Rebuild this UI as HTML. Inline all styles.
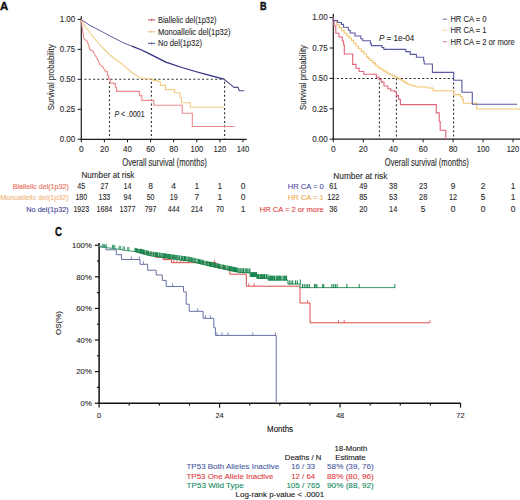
<!DOCTYPE html>
<html><head><meta charset="utf-8"><style>
html,body{margin:0;padding:0;background:#fff;}
svg{display:block;font-family:"Liberation Sans", sans-serif;}
</style></head><body>
<svg width="520" height="500" viewBox="0 0 520 500" shape-rendering="auto">
<rect width="520" height="500" fill="#fff"/>
<text x="0.1" y="9.5" font-size="10.6" fill="#111" font-weight="bold" textLength="8.2" lengthAdjust="spacingAndGlyphs" stroke="#111" stroke-width="0.35">A</text>
<line x1="81.3" y1="16.3" x2="81.3" y2="139.9" stroke="#1a1a1a" stroke-width="1.2"/>
<line x1="80.7" y1="139.3" x2="246.7" y2="139.3" stroke="#1a1a1a" stroke-width="1.2"/>
<line x1="77.6" y1="139.2" x2="81.3" y2="139.2" stroke="#1a1a1a" stroke-width="1"/>
<text x="75.3" y="142" font-size="8.5" fill="#2a2a2a" stroke="#2a2a2a" stroke-width="0.1" text-anchor="end" textLength="15.6" lengthAdjust="spacingAndGlyphs">0.00</text>
<line x1="77.6" y1="109.25" x2="81.3" y2="109.25" stroke="#1a1a1a" stroke-width="1"/>
<text x="75.3" y="112.05" font-size="8.5" fill="#2a2a2a" stroke="#2a2a2a" stroke-width="0.1" text-anchor="end" textLength="15.6" lengthAdjust="spacingAndGlyphs">0.25</text>
<line x1="77.6" y1="79.3" x2="81.3" y2="79.3" stroke="#1a1a1a" stroke-width="1"/>
<text x="75.3" y="82.1" font-size="8.5" fill="#2a2a2a" stroke="#2a2a2a" stroke-width="0.1" text-anchor="end" textLength="15.6" lengthAdjust="spacingAndGlyphs">0.50</text>
<line x1="77.6" y1="49.35" x2="81.3" y2="49.35" stroke="#1a1a1a" stroke-width="1"/>
<text x="75.3" y="52.15" font-size="8.5" fill="#2a2a2a" stroke="#2a2a2a" stroke-width="0.1" text-anchor="end" textLength="15.6" lengthAdjust="spacingAndGlyphs">0.75</text>
<line x1="77.6" y1="19.4" x2="81.3" y2="19.4" stroke="#1a1a1a" stroke-width="1"/>
<text x="75.3" y="22.2" font-size="8.5" fill="#2a2a2a" stroke="#2a2a2a" stroke-width="0.1" text-anchor="end" textLength="15.6" lengthAdjust="spacingAndGlyphs">1.00</text>
<line x1="81.3" y1="139.3" x2="81.3" y2="142.3" stroke="#1a1a1a" stroke-width="1"/>
<text x="81.3" y="152.4" font-size="8.4" fill="#2a2a2a" stroke="#2a2a2a" stroke-width="0.1" text-anchor="middle">0</text>
<line x1="104.4" y1="139.3" x2="104.4" y2="142.3" stroke="#1a1a1a" stroke-width="1"/>
<text x="104.4" y="152.4" font-size="8.4" fill="#2a2a2a" stroke="#2a2a2a" stroke-width="0.1" text-anchor="middle" textLength="8.9" lengthAdjust="spacingAndGlyphs">20</text>
<line x1="127.5" y1="139.3" x2="127.5" y2="142.3" stroke="#1a1a1a" stroke-width="1"/>
<text x="127.5" y="152.4" font-size="8.4" fill="#2a2a2a" stroke="#2a2a2a" stroke-width="0.1" text-anchor="middle" textLength="8.9" lengthAdjust="spacingAndGlyphs">40</text>
<line x1="150.6" y1="139.3" x2="150.6" y2="142.3" stroke="#1a1a1a" stroke-width="1"/>
<text x="150.6" y="152.4" font-size="8.4" fill="#2a2a2a" stroke="#2a2a2a" stroke-width="0.1" text-anchor="middle" textLength="8.9" lengthAdjust="spacingAndGlyphs">60</text>
<line x1="173.7" y1="139.3" x2="173.7" y2="142.3" stroke="#1a1a1a" stroke-width="1"/>
<text x="173.7" y="152.4" font-size="8.4" fill="#2a2a2a" stroke="#2a2a2a" stroke-width="0.1" text-anchor="middle" textLength="8.9" lengthAdjust="spacingAndGlyphs">80</text>
<line x1="196.8" y1="139.3" x2="196.8" y2="142.3" stroke="#1a1a1a" stroke-width="1"/>
<text x="196.8" y="152.4" font-size="8.4" fill="#2a2a2a" stroke="#2a2a2a" stroke-width="0.1" text-anchor="middle" textLength="12.75" lengthAdjust="spacingAndGlyphs">100</text>
<line x1="219.9" y1="139.3" x2="219.9" y2="142.3" stroke="#1a1a1a" stroke-width="1"/>
<text x="219.9" y="152.4" font-size="8.4" fill="#2a2a2a" stroke="#2a2a2a" stroke-width="0.1" text-anchor="middle" textLength="12.75" lengthAdjust="spacingAndGlyphs">120</text>
<line x1="243" y1="139.3" x2="243" y2="142.3" stroke="#1a1a1a" stroke-width="1"/>
<text x="243" y="152.4" font-size="8.4" fill="#2a2a2a" stroke="#2a2a2a" stroke-width="0.1" text-anchor="middle" textLength="12.75" lengthAdjust="spacingAndGlyphs">140</text>
<text x="54.2" y="77.3" font-size="9.3" fill="#2a2a2a" stroke="#2a2a2a" stroke-width="0.1" text-anchor="middle" textLength="66" lengthAdjust="spacingAndGlyphs" transform="rotate(-90 54.2 77.3)">Survival probability</text>
<text x="122.2" y="166.2" font-size="10" fill="#2a2a2a" stroke="#2a2a2a" stroke-width="0.1" textLength="84.6" lengthAdjust="spacingAndGlyphs">Overall survival (months)</text>
<line x1="81.3" y1="79.3" x2="224.7" y2="79.3" stroke="#2a2a2a" stroke-width="1.1" stroke-dasharray="2 2.358" stroke-dashoffset="1.26"/>
<line x1="109.5" y1="79.3" x2="109.5" y2="139.3" stroke="#2a2a2a" stroke-width="1.1" stroke-dasharray="2 2.358" stroke-dashoffset="1.9"/>
<line x1="151.4" y1="79.3" x2="151.4" y2="139.3" stroke="#2a2a2a" stroke-width="1.1" stroke-dasharray="2 2.358" stroke-dashoffset="1.9"/>
<line x1="224.6" y1="79.3" x2="224.6" y2="139.3" stroke="#2a2a2a" stroke-width="1.1" stroke-dasharray="2 2.358" stroke-dashoffset="1.9"/>
<text x="114.4" y="117.1" font-size="8.7" fill="#2a2a2a" stroke="#2a2a2a" stroke-width="0.1" textLength="30.3" lengthAdjust="spacingAndGlyphs"><tspan font-style="italic">P</tspan> &lt; .0001</text>
<path d="M81.3 19.6 L82 26 L83 33 L84 39 L87 41 L89 46 L90 50 L93 51 L95 55 L98 60 L100 65 L103 67 L105.2 71.2" fill="none" stroke="#ec8a8e" stroke-width="1.1" stroke-linejoin="miter" stroke-linecap="butt"/>
<path d="M105.2 71.2 L107.3 71.2 L107.3 75.4 L108.7 75.4 L108.7 78.9 L110.1 78.9 L110.1 83.1 L113.6 83.1 L113.6 83.6 L115.4 83.6 L115.4 87.2 L116.6 87.2 L116.6 91.4 L139.4 91.4 L139.4 95.6 L141.8 95.6 L141.8 100.4 L153.8 100.4 L153.8 105.2 L182.2 105.2 L182.2 113.3 L192.3 113.3 L192.3 126.5 L234.6 126.5" fill="none" stroke="#ec8a8e" stroke-width="1.1" stroke-linejoin="miter" stroke-linecap="butt"/>
<path d="M81.3 19.6 L85 26 L90 33 L95 39 L100 45 L105 50 L110 55 L115 59 L120 62.5 L124.4 66.2 L131.6 72.2 L138.8 77 L142.4 78.4 L150.8 79" fill="none" stroke="#f2cc84" stroke-width="1.1" stroke-linejoin="miter" stroke-linecap="butt"/>
<path d="M150.8 79 L153.2 79 L153.2 80.6 L158 80.6 L158 81.8 L160.4 81.8 L160.4 85.4 L165.4 85.4 L165.4 89.6 L174.6 89.6 L174.6 92.7 L180 92.7 L180 97.3 L181.5 97.3 L181.5 102.7 L189.8 102.7 L189.8 103.5 L190.3 103.5 L190.3 107.3 L224 107.3" fill="none" stroke="#f2cc84" stroke-width="1.1" stroke-linejoin="miter" stroke-linecap="butt"/>
<path d="M81.3 19.6 L90 25.5 L100 30.5 L110 36 L120 41 L123 42.7 L132 46.2" fill="none" stroke="#5c5ca0" stroke-width="1.0" stroke-linejoin="miter" stroke-linecap="butt"/>
<path d="M132 46.2 L141.5 50 L150 54.2 L155 56.7 L165.8 62.2 L181.9 67.5 L195.4 71.5 L208.8 75.2 L221 78.3 L224 79.2" fill="none" stroke="#2e2e82" stroke-width="1.3" stroke-linejoin="miter" stroke-linecap="butt"/>
<path d="M224 79.2 L228.8 83.1 L234.1 87.4 L238 87.4 L239.4 90.8 L244.2 90.8" fill="none" stroke="#4a4a8c" stroke-width="1.1" stroke-linejoin="miter" stroke-linecap="butt"/>
<line x1="148" y1="19.9" x2="155.2" y2="19.9" stroke="#c85a64" stroke-width="1.1"/>
<line x1="151.6" y1="18.8" x2="151.6" y2="21" stroke="#c85a64" stroke-width="0.9"/>
<text x="158" y="22.9" font-size="8.7" fill="#2a2a2a" stroke="#2a2a2a" stroke-width="0.1" textLength="58.6" lengthAdjust="spacingAndGlyphs">Biallelic del(1p32)</text>
<line x1="148" y1="31.8" x2="155.2" y2="31.8" stroke="#ecc48a" stroke-width="1.1"/>
<line x1="151.6" y1="30.7" x2="151.6" y2="32.9" stroke="#ecc48a" stroke-width="0.9"/>
<text x="158" y="34.8" font-size="8.7" fill="#2a2a2a" stroke="#2a2a2a" stroke-width="0.1" textLength="72.5" lengthAdjust="spacingAndGlyphs">Monoallelic del(1p32)</text>
<line x1="148" y1="43.4" x2="155.2" y2="43.4" stroke="#6464a4" stroke-width="1.1"/>
<line x1="151.6" y1="42.3" x2="151.6" y2="44.5" stroke="#6464a4" stroke-width="0.9"/>
<text x="158" y="46.4" font-size="8.7" fill="#2a2a2a" stroke="#2a2a2a" stroke-width="0.1" textLength="44" lengthAdjust="spacingAndGlyphs">No del(1p32)</text>
<text x="81.4" y="178.1" font-size="8.4" fill="#2a2a2a" stroke="#2a2a2a" stroke-width="0.1" textLength="53" lengthAdjust="spacingAndGlyphs">Number at risk</text>
<text x="68.75" y="189.15" font-size="8" fill="#e86a52" stroke="#e86a52" stroke-width="0.1" text-anchor="end" textLength="56" lengthAdjust="spacingAndGlyphs">Biallelic del(1p32)</text>
<text x="81.3" y="189.15" font-size="8.4" fill="#2a2a2a" stroke="#2a2a2a" stroke-width="0.1" text-anchor="middle" textLength="7.9" lengthAdjust="spacingAndGlyphs">45</text>
<text x="104.4" y="189.15" font-size="8.4" fill="#2a2a2a" stroke="#2a2a2a" stroke-width="0.1" text-anchor="middle" textLength="7.9" lengthAdjust="spacingAndGlyphs">27</text>
<text x="127.5" y="189.15" font-size="8.4" fill="#2a2a2a" stroke="#2a2a2a" stroke-width="0.1" text-anchor="middle" textLength="7.9" lengthAdjust="spacingAndGlyphs">14</text>
<text x="150.6" y="189.15" font-size="8.4" fill="#2a2a2a" stroke="#2a2a2a" stroke-width="0.1" text-anchor="middle">8</text>
<text x="173.7" y="189.15" font-size="8.4" fill="#2a2a2a" stroke="#2a2a2a" stroke-width="0.1" text-anchor="middle">4</text>
<text x="196.8" y="189.15" font-size="8.4" fill="#2a2a2a" stroke="#2a2a2a" stroke-width="0.1" text-anchor="middle">1</text>
<text x="219.9" y="189.15" font-size="8.4" fill="#2a2a2a" stroke="#2a2a2a" stroke-width="0.1" text-anchor="middle">1</text>
<text x="243" y="189.15" font-size="8.4" fill="#2a2a2a" stroke="#2a2a2a" stroke-width="0.1" text-anchor="middle">0</text>
<text x="68.75" y="200.4" font-size="8" fill="#f2b27a" stroke="#f2b27a" stroke-width="0.1" text-anchor="end" textLength="68.5" lengthAdjust="spacingAndGlyphs">Monoallelic del(1p32)</text>
<text x="81.3" y="200.4" font-size="8.4" fill="#2a2a2a" stroke="#2a2a2a" stroke-width="0.1" text-anchor="middle" textLength="11.85" lengthAdjust="spacingAndGlyphs">180</text>
<text x="104.4" y="200.4" font-size="8.4" fill="#2a2a2a" stroke="#2a2a2a" stroke-width="0.1" text-anchor="middle" textLength="11.85" lengthAdjust="spacingAndGlyphs">133</text>
<text x="127.5" y="200.4" font-size="8.4" fill="#2a2a2a" stroke="#2a2a2a" stroke-width="0.1" text-anchor="middle" textLength="7.9" lengthAdjust="spacingAndGlyphs">94</text>
<text x="150.6" y="200.4" font-size="8.4" fill="#2a2a2a" stroke="#2a2a2a" stroke-width="0.1" text-anchor="middle" textLength="7.9" lengthAdjust="spacingAndGlyphs">50</text>
<text x="173.7" y="200.4" font-size="8.4" fill="#2a2a2a" stroke="#2a2a2a" stroke-width="0.1" text-anchor="middle" textLength="7.9" lengthAdjust="spacingAndGlyphs">19</text>
<text x="196.8" y="200.4" font-size="8.4" fill="#2a2a2a" stroke="#2a2a2a" stroke-width="0.1" text-anchor="middle">7</text>
<text x="219.9" y="200.4" font-size="8.4" fill="#2a2a2a" stroke="#2a2a2a" stroke-width="0.1" text-anchor="middle">1</text>
<text x="243" y="200.4" font-size="8.4" fill="#2a2a2a" stroke="#2a2a2a" stroke-width="0.1" text-anchor="middle">0</text>
<text x="68.75" y="211.65" font-size="8" fill="#3b3b95" stroke="#3b3b95" stroke-width="0.1" text-anchor="end" textLength="42.5" lengthAdjust="spacingAndGlyphs">No del(1p32)</text>
<text x="81.3" y="211.65" font-size="8.4" fill="#2a2a2a" stroke="#2a2a2a" stroke-width="0.1" text-anchor="middle" textLength="15.8" lengthAdjust="spacingAndGlyphs">1923</text>
<text x="104.4" y="211.65" font-size="8.4" fill="#2a2a2a" stroke="#2a2a2a" stroke-width="0.1" text-anchor="middle" textLength="15.8" lengthAdjust="spacingAndGlyphs">1684</text>
<text x="127.5" y="211.65" font-size="8.4" fill="#2a2a2a" stroke="#2a2a2a" stroke-width="0.1" text-anchor="middle" textLength="15.8" lengthAdjust="spacingAndGlyphs">1377</text>
<text x="150.6" y="211.65" font-size="8.4" fill="#2a2a2a" stroke="#2a2a2a" stroke-width="0.1" text-anchor="middle" textLength="11.85" lengthAdjust="spacingAndGlyphs">797</text>
<text x="173.7" y="211.65" font-size="8.4" fill="#2a2a2a" stroke="#2a2a2a" stroke-width="0.1" text-anchor="middle" textLength="11.85" lengthAdjust="spacingAndGlyphs">444</text>
<text x="196.8" y="211.65" font-size="8.4" fill="#2a2a2a" stroke="#2a2a2a" stroke-width="0.1" text-anchor="middle" textLength="11.85" lengthAdjust="spacingAndGlyphs">214</text>
<text x="219.9" y="211.65" font-size="8.4" fill="#2a2a2a" stroke="#2a2a2a" stroke-width="0.1" text-anchor="middle" textLength="7.9" lengthAdjust="spacingAndGlyphs">70</text>
<text x="243" y="211.65" font-size="8.4" fill="#2a2a2a" stroke="#2a2a2a" stroke-width="0.1" text-anchor="middle">1</text>
<text x="260.1" y="9.6" font-size="11" fill="#111" font-weight="bold" textLength="6.6" lengthAdjust="spacingAndGlyphs" stroke="#111" stroke-width="0.45">B</text>
<line x1="333.3" y1="13.8" x2="333.3" y2="139.9" stroke="#1a1a1a" stroke-width="1.2"/>
<line x1="332.7" y1="139.2" x2="520" y2="139.2" stroke="#1a1a1a" stroke-width="1.2"/>
<line x1="329.6" y1="139.2" x2="333.3" y2="139.2" stroke="#1a1a1a" stroke-width="1"/>
<text x="327.8" y="142" font-size="8.5" fill="#2a2a2a" stroke="#2a2a2a" stroke-width="0.1" text-anchor="end" textLength="15.6" lengthAdjust="spacingAndGlyphs">0.00</text>
<line x1="329.6" y1="108.8" x2="333.3" y2="108.8" stroke="#1a1a1a" stroke-width="1"/>
<text x="327.8" y="111.6" font-size="8.5" fill="#2a2a2a" stroke="#2a2a2a" stroke-width="0.1" text-anchor="end" textLength="15.6" lengthAdjust="spacingAndGlyphs">0.25</text>
<line x1="329.6" y1="78.4" x2="333.3" y2="78.4" stroke="#1a1a1a" stroke-width="1"/>
<text x="327.8" y="81.2" font-size="8.5" fill="#2a2a2a" stroke="#2a2a2a" stroke-width="0.1" text-anchor="end" textLength="15.6" lengthAdjust="spacingAndGlyphs">0.50</text>
<line x1="329.6" y1="48" x2="333.3" y2="48" stroke="#1a1a1a" stroke-width="1"/>
<text x="327.8" y="50.8" font-size="8.5" fill="#2a2a2a" stroke="#2a2a2a" stroke-width="0.1" text-anchor="end" textLength="15.6" lengthAdjust="spacingAndGlyphs">0.75</text>
<line x1="329.6" y1="17.6" x2="333.3" y2="17.6" stroke="#1a1a1a" stroke-width="1"/>
<text x="327.8" y="20.4" font-size="8.5" fill="#2a2a2a" stroke="#2a2a2a" stroke-width="0.1" text-anchor="end" textLength="15.6" lengthAdjust="spacingAndGlyphs">1.00</text>
<line x1="333.3" y1="139.2" x2="333.3" y2="142.3" stroke="#1a1a1a" stroke-width="1"/>
<text x="333.3" y="152.4" font-size="8.4" fill="#2a2a2a" stroke="#2a2a2a" stroke-width="0.1" text-anchor="middle">0</text>
<line x1="363.25" y1="139.2" x2="363.25" y2="142.3" stroke="#1a1a1a" stroke-width="1"/>
<text x="363.25" y="152.4" font-size="8.4" fill="#2a2a2a" stroke="#2a2a2a" stroke-width="0.1" text-anchor="middle" textLength="8.9" lengthAdjust="spacingAndGlyphs">20</text>
<line x1="393.2" y1="139.2" x2="393.2" y2="142.3" stroke="#1a1a1a" stroke-width="1"/>
<text x="393.2" y="152.4" font-size="8.4" fill="#2a2a2a" stroke="#2a2a2a" stroke-width="0.1" text-anchor="middle" textLength="8.9" lengthAdjust="spacingAndGlyphs">40</text>
<line x1="423.15" y1="139.2" x2="423.15" y2="142.3" stroke="#1a1a1a" stroke-width="1"/>
<text x="423.15" y="152.4" font-size="8.4" fill="#2a2a2a" stroke="#2a2a2a" stroke-width="0.1" text-anchor="middle" textLength="8.9" lengthAdjust="spacingAndGlyphs">60</text>
<line x1="453.1" y1="139.2" x2="453.1" y2="142.3" stroke="#1a1a1a" stroke-width="1"/>
<text x="453.1" y="152.4" font-size="8.4" fill="#2a2a2a" stroke="#2a2a2a" stroke-width="0.1" text-anchor="middle" textLength="8.9" lengthAdjust="spacingAndGlyphs">80</text>
<line x1="483.05" y1="139.2" x2="483.05" y2="142.3" stroke="#1a1a1a" stroke-width="1"/>
<text x="483.05" y="152.4" font-size="8.4" fill="#2a2a2a" stroke="#2a2a2a" stroke-width="0.1" text-anchor="middle" textLength="12.75" lengthAdjust="spacingAndGlyphs">100</text>
<line x1="513" y1="139.2" x2="513" y2="142.3" stroke="#1a1a1a" stroke-width="1"/>
<text x="513" y="152.4" font-size="8.4" fill="#2a2a2a" stroke="#2a2a2a" stroke-width="0.1" text-anchor="middle" textLength="12.75" lengthAdjust="spacingAndGlyphs">120</text>
<text x="306.2" y="77.5" font-size="9.3" fill="#2a2a2a" stroke="#2a2a2a" stroke-width="0.1" text-anchor="middle" textLength="65" lengthAdjust="spacingAndGlyphs" transform="rotate(-90 306.2 77.5)">Survival probability</text>
<text x="384.8" y="165.8" font-size="10" fill="#2a2a2a" stroke="#2a2a2a" stroke-width="0.1" textLength="84" lengthAdjust="spacingAndGlyphs">Overall survival (months)</text>
<line x1="333.3" y1="78.5" x2="453.8" y2="78.5" stroke="#2a2a2a" stroke-width="1.1" stroke-dasharray="2.1 2.171" stroke-dashoffset="0.85"/>
<line x1="379.4" y1="78.5" x2="379.4" y2="139.2" stroke="#2a2a2a" stroke-width="1.1" stroke-dasharray="2 2.33" stroke-dashoffset="0.3"/>
<line x1="396.4" y1="78.5" x2="396.4" y2="139.2" stroke="#2a2a2a" stroke-width="1.1" stroke-dasharray="2 2.33" stroke-dashoffset="0.3"/>
<line x1="453.6" y1="78.5" x2="453.6" y2="139.2" stroke="#2a2a2a" stroke-width="1.1" stroke-dasharray="2 2.33" stroke-dashoffset="0.3"/>
<text x="378.9" y="41.3" font-size="8.3" fill="#2a2a2a" stroke="#2a2a2a" stroke-width="0.1" textLength="35.5" lengthAdjust="spacingAndGlyphs"><tspan font-style="italic">P</tspan> = 1e-04</text>
<path d="M333.3 17.6 L333.3 20 L334 20 L334 26 L335.8 26 L335.8 33.2 L339 33.2 L339 37 L342.3 37 L342.3 41 L343.6 41 L343.6 44.9 L344.3 44.9 L344.3 54 L351.4 54 L352.7 54 L352.7 64.4 L356 64.4 L356 68.2 L359.2 68.2 L359.2 71.5 L363.8 71.5 L363.8 74.3 L376.3 74.3 L376.3 77.3 L379.2 77.3 L379.2 79.2 L381.2 79.2 L381.2 82.1 L384 82.1 L384 86 L387.9 86 L387.9 88.8 L390.8 88.8 L390.8 90.8 L394.6 90.8 L394.6 91.7 L396.5 91.7 L396.5 95.6 L398.5 95.6 L398.5 99.4 L400.4 99.4 L400.4 104.6 L436.3 104.6 L436.3 112.9 L439.2 112.9 L439.2 121.5 L440.2 121.5 L440.2 130.2 L445.8 130.2 L445.8 139.2" fill="none" stroke="#e2647a" stroke-width="1.1" stroke-linejoin="miter" stroke-linecap="butt"/>
<path d="M333.3 17.6 L333.3 20.2 L336.5 20.2 L336.5 24.7 L339.1 24.7 L339.1 27.65 L341.7 27.65 L341.7 30.6 L344.3 30.6 L344.3 33.2 L346.9 33.2 L346.9 35.8 L349.15 35.8 L349.15 38.05 L351.4 38.05 L351.4 40.3 L353.7 40.3 L353.7 43.25 L356 43.25 L356 46.2 L358.6 46.2 L358.6 48.8 L361.2 48.8 L361.2 51.4 L363.8 51.4 L363.8 54 L366.4 54 L366.4 56.6 L368.2 56.6 L368.2 58.55 L370 58.55 L370 60.5 L372.67 60.5 L372.67 62.9 L375.33 62.9 L375.33 65.3 L378 65.3 L378 67.7 L380.43 67.7 L380.43 69.15 L382.85 69.15 L382.85 70.6 L385.27 70.6 L385.27 72.05 L387.7 72.05 L387.7 73.5 L390.1 73.5 L390.1 74.7 L392.5 74.7 L392.5 75.9 L394.9 75.9 L394.9 77.1 L397.3 77.1 L397.3 78.3 L399.73 78.3 L399.73 79.72 L402.15 79.72 L402.15 81.15 L404.57 81.15 L404.57 82.58 L407 82.58 L407 84 L409.38 84 L409.38 84.75 L411.75 84.75 L411.75 85.5 L414.12 85.5 L414.12 86.25 L416.5 86.25 L416.5 87" fill="none" stroke="#f2c470" stroke-width="1.1" stroke-linejoin="miter" stroke-linecap="butt"/>
<path d="M416.5 87 L427.5 87 L427.5 88 L433 88 L433 90.8 L453.7 90.8 L453.7 94.6 L460.4 94.6 L460.4 96.5 L462.3 96.5 L462.3 99.4 L463.3 99.4 L463.3 103.3 L476.7 103.3 L476.7 109 L520 109" fill="none" stroke="#f2c470" stroke-width="1.1" stroke-linejoin="miter" stroke-linecap="butt"/>
<path d="M333.3 17.6 L333.3 20.6 L337.7 20.6 L337.7 22.5 L341.5 22.5 L341.5 24.4 L343.5 24.4 L343.5 27.3 L348.3 27.3 L348.3 30.2 L350.2 30.2 L350.2 33 L355 33 L355 36 L360.8 36 L360.8 38.8 L362.7 38.8 L362.7 40.8 L370.4 40.8 L370.4 43.6 L371.3 43.6 L371.3 45.6 L381.9 45.6 L381.9 47.5 L383.8 47.5 L383.8 49.4 L405.8 49.4 L405.8 51.6 L410.2 51.6 L410.2 54.4 L416.4 54.4 L416.4 57.2 L423.6 57.2 L423.6 60.8 L424.2 60.8 L424.2 64 L432.4 64 L432.4 72.4 L453.7 72.4 L453.7 80.2 L461.9 80.2 L461.9 92.3 L472.3 92.3 L472.3 104.2 L517.1 104.2" fill="none" stroke="#5a5aa4" stroke-width="1.1" stroke-linejoin="miter" stroke-linecap="butt"/>
<line x1="442.7" y1="19.2" x2="446.9" y2="19.2" stroke="#7474b4" stroke-width="1.1"/>
<text x="450.4" y="22.2" font-size="8.7" fill="#2a2a2a" stroke="#2a2a2a" stroke-width="0.1" textLength="36" lengthAdjust="spacingAndGlyphs">HR CA = 0</text>
<line x1="442.7" y1="30.2" x2="446.9" y2="30.2" stroke="#f3cc90" stroke-width="1.1"/>
<text x="450.4" y="33.2" font-size="8.7" fill="#2a2a2a" stroke="#2a2a2a" stroke-width="0.1" textLength="36" lengthAdjust="spacingAndGlyphs">HR CA = 1</text>
<line x1="442.7" y1="41.7" x2="446.9" y2="41.7" stroke="#e48a9c" stroke-width="1.1"/>
<text x="450.4" y="44.7" font-size="8.7" fill="#2a2a2a" stroke="#2a2a2a" stroke-width="0.1" textLength="64.4" lengthAdjust="spacingAndGlyphs">HR CA = 2 or more</text>
<text x="333.3" y="178.9" font-size="8.4" fill="#2a2a2a" stroke="#2a2a2a" stroke-width="0.1" textLength="54" lengthAdjust="spacingAndGlyphs">Number at risk</text>
<text x="323.75" y="189.2" font-size="8" fill="#4848a0" stroke="#4848a0" stroke-width="0.1" text-anchor="end" textLength="36" lengthAdjust="spacingAndGlyphs">HR CA = 0</text>
<text x="333.3" y="189.2" font-size="8.4" fill="#2a2a2a" stroke="#2a2a2a" stroke-width="0.1" text-anchor="middle" textLength="8.2" lengthAdjust="spacingAndGlyphs">61</text>
<text x="363.25" y="189.2" font-size="8.4" fill="#2a2a2a" stroke="#2a2a2a" stroke-width="0.1" text-anchor="middle" textLength="8.2" lengthAdjust="spacingAndGlyphs">49</text>
<text x="393.2" y="189.2" font-size="8.4" fill="#2a2a2a" stroke="#2a2a2a" stroke-width="0.1" text-anchor="middle" textLength="8.2" lengthAdjust="spacingAndGlyphs">38</text>
<text x="423.15" y="189.2" font-size="8.4" fill="#2a2a2a" stroke="#2a2a2a" stroke-width="0.1" text-anchor="middle" textLength="8.2" lengthAdjust="spacingAndGlyphs">23</text>
<text x="453.1" y="189.2" font-size="8.4" fill="#2a2a2a" stroke="#2a2a2a" stroke-width="0.1" text-anchor="middle">9</text>
<text x="483.05" y="189.2" font-size="8.4" fill="#2a2a2a" stroke="#2a2a2a" stroke-width="0.1" text-anchor="middle">2</text>
<text x="513" y="189.2" font-size="8.4" fill="#2a2a2a" stroke="#2a2a2a" stroke-width="0.1" text-anchor="middle">1</text>
<text x="323.75" y="200.4" font-size="8" fill="#f2a94a" stroke="#f2a94a" stroke-width="0.1" text-anchor="end" textLength="36" lengthAdjust="spacingAndGlyphs">HR CA = 1</text>
<text x="333.3" y="200.4" font-size="8.4" fill="#2a2a2a" stroke="#2a2a2a" stroke-width="0.1" text-anchor="middle" textLength="12.3" lengthAdjust="spacingAndGlyphs">122</text>
<text x="363.25" y="200.4" font-size="8.4" fill="#2a2a2a" stroke="#2a2a2a" stroke-width="0.1" text-anchor="middle" textLength="8.2" lengthAdjust="spacingAndGlyphs">85</text>
<text x="393.2" y="200.4" font-size="8.4" fill="#2a2a2a" stroke="#2a2a2a" stroke-width="0.1" text-anchor="middle" textLength="8.2" lengthAdjust="spacingAndGlyphs">53</text>
<text x="423.15" y="200.4" font-size="8.4" fill="#2a2a2a" stroke="#2a2a2a" stroke-width="0.1" text-anchor="middle" textLength="8.2" lengthAdjust="spacingAndGlyphs">28</text>
<text x="453.1" y="200.4" font-size="8.4" fill="#2a2a2a" stroke="#2a2a2a" stroke-width="0.1" text-anchor="middle" textLength="8.2" lengthAdjust="spacingAndGlyphs">12</text>
<text x="483.05" y="200.4" font-size="8.4" fill="#2a2a2a" stroke="#2a2a2a" stroke-width="0.1" text-anchor="middle">5</text>
<text x="513" y="200.4" font-size="8.4" fill="#2a2a2a" stroke="#2a2a2a" stroke-width="0.1" text-anchor="middle">1</text>
<text x="323.75" y="211.9" font-size="8" fill="#e23a3a" stroke="#e23a3a" stroke-width="0.1" text-anchor="end" textLength="64" lengthAdjust="spacingAndGlyphs">HR CA = 2 or more</text>
<text x="333.3" y="211.9" font-size="8.4" fill="#2a2a2a" stroke="#2a2a2a" stroke-width="0.1" text-anchor="middle" textLength="8.2" lengthAdjust="spacingAndGlyphs">36</text>
<text x="363.25" y="211.9" font-size="8.4" fill="#2a2a2a" stroke="#2a2a2a" stroke-width="0.1" text-anchor="middle" textLength="8.2" lengthAdjust="spacingAndGlyphs">20</text>
<text x="393.2" y="211.9" font-size="8.4" fill="#2a2a2a" stroke="#2a2a2a" stroke-width="0.1" text-anchor="middle" textLength="8.2" lengthAdjust="spacingAndGlyphs">14</text>
<text x="423.15" y="211.9" font-size="8.4" fill="#2a2a2a" stroke="#2a2a2a" stroke-width="0.1" text-anchor="middle">5</text>
<text x="453.1" y="211.9" font-size="8.4" fill="#2a2a2a" stroke="#2a2a2a" stroke-width="0.1" text-anchor="middle">0</text>
<text x="483.05" y="211.9" font-size="8.4" fill="#2a2a2a" stroke="#2a2a2a" stroke-width="0.1" text-anchor="middle">0</text>
<text x="513" y="211.9" font-size="8.4" fill="#2a2a2a" stroke="#2a2a2a" stroke-width="0.1" text-anchor="middle">0</text>
<text x="54.9" y="235.6" font-size="12" fill="#111" font-weight="bold" textLength="7" lengthAdjust="spacingAndGlyphs" stroke="#111" stroke-width="0.35">C</text>
<line x1="99.1" y1="243" x2="99.1" y2="404" stroke="#111" stroke-width="1.5"/>
<line x1="98.4" y1="403.2" x2="460.6" y2="403.2" stroke="#111" stroke-width="1.6"/>
<line x1="94.8" y1="403.2" x2="99.1" y2="403.2" stroke="#111" stroke-width="1.2"/>
<text x="91.9" y="406" font-size="7.8" fill="#2a2a2a" stroke="#2a2a2a" stroke-width="0.1" text-anchor="end">0%</text>
<line x1="97" y1="387.4" x2="99.1" y2="387.4" stroke="#111" stroke-width="1.2"/>
<line x1="94.8" y1="371.6" x2="99.1" y2="371.6" stroke="#111" stroke-width="1.2"/>
<text x="91.9" y="374.4" font-size="7.8" fill="#2a2a2a" stroke="#2a2a2a" stroke-width="0.1" text-anchor="end">20%</text>
<line x1="97" y1="355.8" x2="99.1" y2="355.8" stroke="#111" stroke-width="1.2"/>
<line x1="94.8" y1="340" x2="99.1" y2="340" stroke="#111" stroke-width="1.2"/>
<text x="91.9" y="342.8" font-size="7.8" fill="#2a2a2a" stroke="#2a2a2a" stroke-width="0.1" text-anchor="end">40%</text>
<line x1="97" y1="324.2" x2="99.1" y2="324.2" stroke="#111" stroke-width="1.2"/>
<line x1="94.8" y1="308.4" x2="99.1" y2="308.4" stroke="#111" stroke-width="1.2"/>
<text x="91.9" y="311.2" font-size="7.8" fill="#2a2a2a" stroke="#2a2a2a" stroke-width="0.1" text-anchor="end">60%</text>
<line x1="97" y1="292.6" x2="99.1" y2="292.6" stroke="#111" stroke-width="1.2"/>
<line x1="94.8" y1="276.8" x2="99.1" y2="276.8" stroke="#111" stroke-width="1.2"/>
<text x="91.9" y="279.6" font-size="7.8" fill="#2a2a2a" stroke="#2a2a2a" stroke-width="0.1" text-anchor="end">80%</text>
<line x1="97" y1="261" x2="99.1" y2="261" stroke="#111" stroke-width="1.2"/>
<line x1="94.8" y1="245.2" x2="99.1" y2="245.2" stroke="#111" stroke-width="1.2"/>
<text x="91.9" y="248" font-size="7.8" fill="#2a2a2a" stroke="#2a2a2a" stroke-width="0.1" text-anchor="end">100%</text>
<line x1="99.1" y1="403.2" x2="99.1" y2="407.6" stroke="#111" stroke-width="1.2"/>
<text x="99.1" y="417.7" font-size="7.5" fill="#2a2a2a" stroke="#2a2a2a" stroke-width="0.1" text-anchor="middle">0</text>
<line x1="129.22" y1="403.2" x2="129.22" y2="405.6" stroke="#111" stroke-width="1.2"/>
<line x1="159.34" y1="403.2" x2="159.34" y2="405.6" stroke="#111" stroke-width="1.2"/>
<line x1="189.46" y1="403.2" x2="189.46" y2="405.6" stroke="#111" stroke-width="1.2"/>
<line x1="219.58" y1="403.2" x2="219.58" y2="407.6" stroke="#111" stroke-width="1.2"/>
<text x="219.58" y="417.7" font-size="7.5" fill="#2a2a2a" stroke="#2a2a2a" stroke-width="0.1" text-anchor="middle">24</text>
<line x1="249.7" y1="403.2" x2="249.7" y2="405.6" stroke="#111" stroke-width="1.2"/>
<line x1="279.82" y1="403.2" x2="279.82" y2="405.6" stroke="#111" stroke-width="1.2"/>
<line x1="309.94" y1="403.2" x2="309.94" y2="405.6" stroke="#111" stroke-width="1.2"/>
<line x1="340.06" y1="403.2" x2="340.06" y2="407.6" stroke="#111" stroke-width="1.2"/>
<text x="340.06" y="417.7" font-size="7.5" fill="#2a2a2a" stroke="#2a2a2a" stroke-width="0.1" text-anchor="middle">48</text>
<line x1="370.18" y1="403.2" x2="370.18" y2="405.6" stroke="#111" stroke-width="1.2"/>
<line x1="400.3" y1="403.2" x2="400.3" y2="405.6" stroke="#111" stroke-width="1.2"/>
<line x1="430.42" y1="403.2" x2="430.42" y2="405.6" stroke="#111" stroke-width="1.2"/>
<line x1="460.54" y1="403.2" x2="460.54" y2="407.6" stroke="#111" stroke-width="1.2"/>
<text x="460.54" y="417.7" font-size="7.5" fill="#2a2a2a" stroke="#2a2a2a" stroke-width="0.1" text-anchor="middle">72</text>
<text x="61.1" y="323" font-size="8" fill="#2a2a2a" stroke="#2a2a2a" stroke-width="0.1" text-anchor="middle" textLength="24" lengthAdjust="spacingAndGlyphs" transform="rotate(-90 61.1 323)">OS(%)</text>
<text x="267.1" y="431.8" font-size="8.3" fill="#111" stroke="#111" stroke-width="0.1" textLength="26" lengthAdjust="spacingAndGlyphs">Months</text>
<path d="M99.1 245.3 L99.1 246.2 L106 246.2 L106 249.8 L116.3 249.8 L116.3 254.7 L121.5 254.7 L121.5 259.5 L140 259.5 L140 264.3 L147.7 264.3 L147.7 270.2 L156.2 270.2 L156.2 275 L162.3 275 L162.3 280.4 L166.2 280.4 L166.2 286.5 L183.5 286.5 L183.5 291.9 L186.2 291.9 L186.2 304.2 L189.2 304.2 L189.2 311.3 L203.1 311.3 L203.1 318.3 L213.8 318.3 L213.8 327.7 L215.4 327.7 L215.4 335.4 L276.2 335.4 L276.2 402.5" fill="none" stroke="#6670a4" stroke-width="1.0" stroke-linejoin="miter" stroke-linecap="butt"/>
<line x1="131.3" y1="256.5" x2="131.3" y2="259.5" stroke="#6670a4" stroke-width="0.8"/>
<line x1="139.4" y1="256.5" x2="139.4" y2="259.5" stroke="#6670a4" stroke-width="0.8"/>
<line x1="143.5" y1="261.3" x2="143.5" y2="264.3" stroke="#6670a4" stroke-width="0.8"/>
<line x1="172.6" y1="283.5" x2="172.6" y2="286.5" stroke="#6670a4" stroke-width="0.8"/>
<line x1="197.7" y1="308.3" x2="197.7" y2="311.3" stroke="#6670a4" stroke-width="0.8"/>
<line x1="205.4" y1="315.3" x2="205.4" y2="318.3" stroke="#6670a4" stroke-width="0.8"/>
<line x1="210.5" y1="315.3" x2="210.5" y2="318.3" stroke="#6670a4" stroke-width="0.8"/>
<line x1="216.9" y1="332.4" x2="216.9" y2="335.4" stroke="#6670a4" stroke-width="0.8"/>
<line x1="222" y1="332.4" x2="222" y2="335.4" stroke="#6670a4" stroke-width="0.8"/>
<line x1="228" y1="332.4" x2="228" y2="335.4" stroke="#6670a4" stroke-width="0.8"/>
<line x1="252.8" y1="332.4" x2="252.8" y2="335.4" stroke="#6670a4" stroke-width="0.8"/>
<line x1="275.4" y1="332.4" x2="275.4" y2="335.4" stroke="#6670a4" stroke-width="0.8"/>
<path d="M140 252.6 L155.4 253.9 L155.4 257.3 L163 257.3 L163 259.6 L171.5 259.6 L171.5 262.7 L216 262.7 L216 267 L225 267 L225 269.5 L229.8 269.5 L229.8 274.2 L246.3 274.2 L246.3 286.2 L300 286.2 L300 303 L310 303 L310 322.8 L430 322.8" fill="none" stroke="#dc4c4c" stroke-width="1.0" stroke-linejoin="miter" stroke-linecap="butt"/>
<line x1="164.6" y1="256.6" x2="164.6" y2="259.6" stroke="#dc4c4c" stroke-width="0.8"/>
<line x1="170" y1="256.6" x2="170" y2="259.6" stroke="#dc4c4c" stroke-width="0.8"/>
<line x1="173.8" y1="259.7" x2="173.8" y2="262.7" stroke="#dc4c4c" stroke-width="0.8"/>
<line x1="177" y1="259.7" x2="177" y2="262.7" stroke="#dc4c4c" stroke-width="0.8"/>
<line x1="180.8" y1="259.7" x2="180.8" y2="262.7" stroke="#dc4c4c" stroke-width="0.8"/>
<line x1="183.8" y1="259.7" x2="183.8" y2="262.7" stroke="#dc4c4c" stroke-width="0.8"/>
<line x1="188.5" y1="259.7" x2="188.5" y2="262.7" stroke="#dc4c4c" stroke-width="0.8"/>
<line x1="214.3" y1="259.7" x2="214.3" y2="262.7" stroke="#dc4c4c" stroke-width="0.8"/>
<line x1="248.8" y1="283.2" x2="248.8" y2="286.2" stroke="#dc4c4c" stroke-width="0.8"/>
<line x1="254.2" y1="283.2" x2="254.2" y2="286.2" stroke="#dc4c4c" stroke-width="0.8"/>
<line x1="307.6" y1="300" x2="307.6" y2="303" stroke="#dc4c4c" stroke-width="0.8"/>
<line x1="338.5" y1="319.8" x2="338.5" y2="322.8" stroke="#dc4c4c" stroke-width="0.8"/>
<line x1="344.2" y1="319.8" x2="344.2" y2="322.8" stroke="#dc4c4c" stroke-width="0.8"/>
<line x1="430" y1="319.8" x2="430" y2="322.8" stroke="#dc4c4c" stroke-width="0.8"/>
<path d="M99.1 245.3 L100 247 L114 248.5 L124.5 250.2 L135 251.5 L150 255.6 L160 257 L190 261.2 L210 266 L230 270.4 L240 272.5 L250.1 272.8 L250.1 276.5 L257 276.5 L257 278.5 L268 278.5 L268 280 L287.8 280 L287.8 284 L300 284 L300 287.6 L394.8 287.6" fill="none" stroke="#3d9a6a" stroke-width="1.0" stroke-linejoin="miter" stroke-linecap="butt"/>
<path d="M102.80 243.70V247.80M103.90 243.82V247.92M104.90 243.93V248.03M106.30 244.08V248.18M112.40 244.73V248.83M113.50 244.85V248.95M114.80 245.03V249.13M119.20 245.74V249.84M120.40 245.94V250.04M123.00 246.36V250.46M124.30 246.57V250.67M127.80 247.01V251.11M128.90 247.14V251.24" stroke="#3c9c6c" stroke-width="1.0" fill="none"/>
<path d="M135.00 247.90V252.00M135.79 248.12V252.22M136.40 248.28V252.38M137.53 248.59V252.69M138.06 248.74V252.84M139.07 249.01V253.11M139.90 249.24V253.34M140.42 248.68V253.48M141.40 248.95V253.75M141.89 249.08V253.88M142.79 249.33V254.13M143.32 249.47V254.27M143.86 249.62V254.42M144.76 249.87V254.67M146.08 250.23V255.03M146.66 250.39V255.19M147.34 250.57V255.37M148.45 250.88V255.68M149.89 251.27V256.07M150.95 251.43V256.23M151.82 251.55V256.35M153.29 251.76V256.56M153.79 251.83V256.63M155.14 252.02V256.82M155.90 252.13V256.93M156.50 252.21V257.01M157.07 252.29V257.09M157.84 252.40V257.20M159.15 252.58V257.38M159.79 252.67V257.47M160.85 252.82V257.62M161.97 252.98V257.78M162.81 253.09V257.89M163.84 253.24V258.04M164.36 253.31V258.11M164.87 253.38V258.18M165.53 253.47V258.27M166.70 253.64V258.44M167.60 253.76V258.56M168.38 253.87V258.67M169.44 254.02V258.82M170.37 254.15V258.95M171.13 254.26V259.06M172.42 254.44V259.24M173.60 254.60V259.40M174.31 254.70V259.50M175.36 254.85V259.65M176.36 254.99V259.79M177.73 255.18V259.98M178.95 255.35V260.15M179.70 255.46V260.26M181.18 255.66V260.46M181.75 255.75V260.55M182.64 255.87V260.67M183.89 256.04V260.84M184.50 256.13V260.93M185.46 256.26V261.06M185.95 256.33V261.13M187.10 256.49V261.29M188.35 256.67V261.47M189.41 256.82V261.62M190.78 257.09V261.89M191.55 257.27V262.07M192.73 257.56V262.36M193.81 257.81V262.61M194.87 258.07V262.87M195.80 258.29V263.09M197.13 258.61V263.41M198.57 258.96V263.76M199.52 259.18V263.98M200.67 259.46V264.26M201.18 259.58V264.38M202.37 259.87V264.67M203.50 260.14V264.94M204.99 260.50V265.30M206.30 260.81V265.61M207.05 260.99V265.79M207.91 261.20V266.00M209.06 261.47V266.27M209.53 261.59V266.39M210.47 261.80V266.60M211.09 261.94V266.74M211.67 262.07V266.87M212.18 262.18V266.98M213.43 262.46V267.26M214.02 262.58V267.38M214.73 262.74V267.54M215.59 262.93V267.73M216.96 263.23V268.03M217.49 263.35V268.15M218.41 263.55V268.35M219.44 263.78V268.58M220.82 264.08V268.88M222.13 264.37V269.17M223.48 264.67V269.47M224.23 264.83V269.63M225.11 265.02V269.82M225.94 265.21V270.01M227.32 265.51V270.31M228.77 265.83V270.63M229.38 265.96V270.76M230.02 266.10V270.90M230.71 266.25V271.05M231.40 266.39V271.19M232.36 266.60V271.40M233.43 266.82V271.62M234.16 266.97V271.77M234.61 267.07V271.87M235.50 267.26V272.06M236.34 267.43V272.23M237.38 267.65V272.45M238.84 267.96V272.76M240.01 268.20V273.00M241.00 268.23V273.03M242.10 268.26V273.06M243.26 268.30V273.10M243.77 268.31V273.11M245.16 268.35V273.15M246.43 268.39V273.19M247.80 268.43V273.23M249.09 268.47V273.27M249.95 268.50V273.30M250.82 272.20V277.00M251.38 272.20V277.00M252.49 272.20V277.00M253.01 272.20V277.00M253.53 272.20V277.00M254.20 272.20V277.00M254.82 272.20V277.00M255.62 272.20V277.00M256.13 272.20V277.00M256.58 272.20V277.00M257.19 274.20V279.00M257.75 274.20V279.00M258.58 274.20V279.00M259.05 274.20V279.00M260.42 274.20V279.00M261.52 274.20V279.00M262.12 274.20V279.00M262.84 274.20V279.00M263.65 274.20V279.00M264.49 274.20V279.00M265.06 274.20V279.00M266.41 274.20V279.00M267.90 274.20V279.00M268.84 275.70V280.50M269.80 275.70V280.50M270.34 275.70V280.50M270.89 275.70V280.50M271.70 275.70V280.50M272.43 275.70V280.50M273.75 275.70V280.50M274.37 275.70V280.50M274.84 275.70V280.50M276.29 275.70V280.50M277.30 275.70V280.50M277.90 275.70V280.50M278.92 275.70V280.50M279.40 275.70V280.50M280.41 275.70V280.50M281.88 275.70V280.50M283.24 275.70V280.50M284.42 275.70V280.50M285.14 275.70V280.50M285.98 275.70V280.50M286.60 275.70V280.50M289.20 280.40V284.50M291.00 280.40V284.50M292.70 280.40V284.50M295.60 280.40V284.50M297.30 280.40V284.50M302.50 284.00V288.10M304.20 284.00V288.10M306.00 284.00V288.10M307.70 284.00V288.10M309.40 284.00V288.10M314.60 284.00V288.10M315.80 284.00V288.10M316.90 284.00V288.10M322.70 284.00V288.10M323.80 284.00V288.10M331.90 284.00V288.10M333.70 284.00V288.10M335.40 284.00V288.10M337.10 284.00V288.10M346.90 284.00V288.10M359.20 284.00V288.10M394.80 284.00V288.10M300.3 279.5V284.6" stroke="#128248" stroke-width="1.0" fill="none"/>
<text x="334.5" y="450.9" font-size="8.1" fill="#111" stroke="#111" stroke-width="0.1" textLength="32.8" lengthAdjust="spacingAndGlyphs">18-Month</text>
<text x="335.2" y="460" font-size="8.1" fill="#111" stroke="#111" stroke-width="0.1" textLength="30.4" lengthAdjust="spacingAndGlyphs">Estimate</text>
<text x="284.8" y="460" font-size="8.1" fill="#111" stroke="#111" stroke-width="0.1" textLength="36.6" lengthAdjust="spacingAndGlyphs">Deaths / N</text>
<text x="186.5" y="469.2" font-size="8.1" fill="#4a5aa2" stroke="#4a5aa2" stroke-width="0.1" textLength="92.7" lengthAdjust="spacingAndGlyphs">TP53 Both Alleles Inactive</text>
<text x="303.2" y="469.2" font-size="8.1" fill="#4a5aa2" stroke="#4a5aa2" stroke-width="0.1" text-anchor="middle" textLength="23.8" lengthAdjust="spacingAndGlyphs">16 / 33</text>
<text x="327.1" y="469.2" font-size="8.1" fill="#4a5aa2" stroke="#4a5aa2" stroke-width="0.1" textLength="46.6" lengthAdjust="spacingAndGlyphs">58% (39, 76)</text>
<text x="186.5" y="478.5" font-size="8.1" fill="#e03c3c" stroke="#e03c3c" stroke-width="0.1" textLength="87" lengthAdjust="spacingAndGlyphs">TP53 One Allele Inactive</text>
<text x="303.2" y="478.5" font-size="8.1" fill="#e03c3c" stroke="#e03c3c" stroke-width="0.1" text-anchor="middle" textLength="23.8" lengthAdjust="spacingAndGlyphs">12 / 64</text>
<text x="327.1" y="478.5" font-size="8.1" fill="#e03c3c" stroke="#e03c3c" stroke-width="0.1" textLength="46.6" lengthAdjust="spacingAndGlyphs">88% (80, 96)</text>
<text x="186.5" y="487.9" font-size="8.1" fill="#138a5e" stroke="#138a5e" stroke-width="0.1" textLength="57.2" lengthAdjust="spacingAndGlyphs">TP53 Wild Type</text>
<text x="303.2" y="487.9" font-size="8.1" fill="#138a5e" stroke="#138a5e" stroke-width="0.1" text-anchor="middle" textLength="33.6" lengthAdjust="spacingAndGlyphs">105 / 765</text>
<text x="327.1" y="487.9" font-size="8.1" fill="#138a5e" stroke="#138a5e" stroke-width="0.1" textLength="46.6" lengthAdjust="spacingAndGlyphs">90% (88, 92)</text>
<text x="235.6" y="497.4" font-size="8.1" fill="#111" stroke="#111" stroke-width="0.1" textLength="88.6" lengthAdjust="spacingAndGlyphs">Log-rank p-value &lt; .0001</text>
</svg>
</body></html>
